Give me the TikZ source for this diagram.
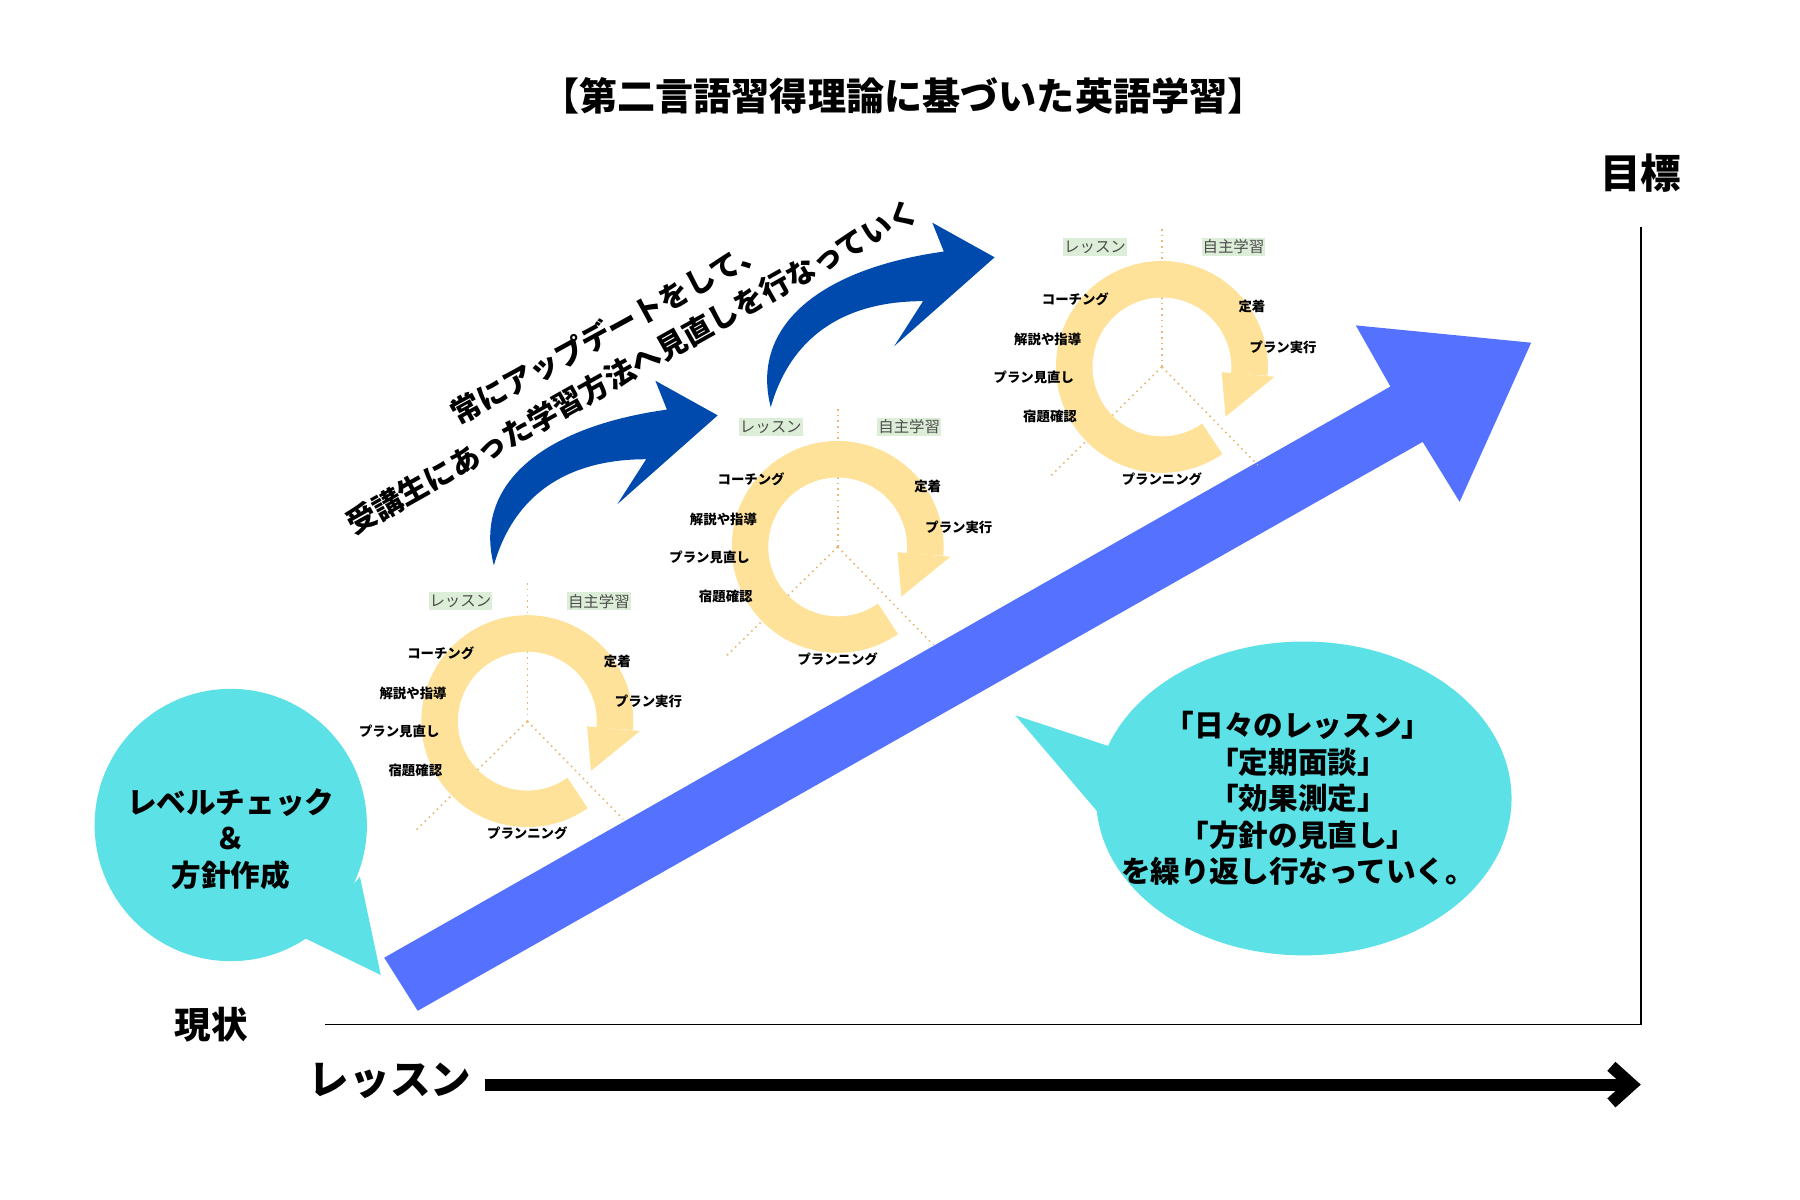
\documentclass[tikz,border=0pt]{standalone}
\usepackage{fontspec}
\usetikzlibrary{arrows.meta}
\setmainfont{Noto Sans CJK JP}
\definecolor{ringyellow}{HTML}{FFE29A}
\definecolor{bigblue}{HTML}{5472FF}
\definecolor{darkblue}{HTML}{004AAD}
\definecolor{bubble}{HTML}{5CE1E6}
\definecolor{tagbg}{HTML}{DDEED8}
\definecolor{guide}{HTML}{E8B878}
\tikzset{
  steplabel/.style={font=\fontsize{3.3pt}{4pt}\selectfont\bfseries, inner sep=0pt},
  tag/.style={fill=tagbg, text=black!70, font=\fontsize{3.8pt}{4pt}\selectfont,
    minimum width=0.55cm, minimum height=0.16cm, inner sep=0pt},
  bigtext/.style={font=\fontsize{7.3pt}{9pt}\selectfont\bfseries},
}
\newcommand{\studycycle}[3]{%
  \begin{scope}[shift={(#1,#2)}, yscale=-1]
    \draw [guide, densely dotted, thin] (0,0) -- (0,120);
    \draw [guide, densely dotted, thin] (0,0) -- (-97,-95);
    \draw [guide, densely dotted, thin] (0,0) -- (83,-85);
    \draw [ringyellow, line width=9pt] (-55:76) arc [start angle=-55, end angle=-365, radius=76];
    \fill [ringyellow] (-365:52) -- (-365:98) -- (-398:70) -- cycle;
    \node [tag] (#3les) at (-58,104) {レッスン};
    \node [tag] (#3self) at (62,104) {自主学習};
    \node [steplabel] (#3coach) at (-75,59) {コーチング};
    \node [steplabel] (#3expl) at (-99,24) {解説や指導};
    \node [steplabel] (#3rev) at (-111,-9) {プラン見直し};
    \node [steplabel] (#3hw) at (-97,-43) {宿題確認};
    \node [steplabel] (#3plan) at (0,-97) {プランニング};
    \node [steplabel] (#3fix) at (78,52) {定着};
    \node [steplabel] (#3run) at (105,17) {プラン実行};
  \end{scope}}

\begin{document}
\begin{tikzpicture}[x=0.01cm, y=-0.01cm]
  \useasboundingbox (0,0) rectangle (1560,1040);
  % title and axes
  \node [font=\fontsize{9.4pt}{11pt}\selectfont\bfseries] (title) at (783,83) {【第二言語習得理論に基づいた英語学習】};
  \node [font=\fontsize{10pt}{12pt}\selectfont\bfseries] (goal) at (1422,150) {目標};
  \node [font=\fontsize{9pt}{11pt}\selectfont\bfseries] (now) at (183,888) {現状};
  \node [font=\fontsize{10pt}{12pt}\selectfont\bfseries] (lessons) at (338,937) {レッスン};
  \coordinate (top) at (1422,197);
  \coordinate (corner) at (1422,888);
  \coordinate (origin) at (282,888);
  \draw [thin] (top) -- (corner) -- (origin);
  \coordinate (tstart) at (420,940);
  \coordinate (tend) at (1422,940);
  \draw [line width=3pt, -{Straight Barb[length=5pt,width=9pt]}] (tstart) -- (tend);
  % speech bubbles
  \fill [bubble] (200,715) circle [radius=118];
  \fill [bubble] (262,812) -- (330,845) -- (312,760) -- cycle;
  \node [bigtext, align=center] (check) at (200,727) {レベルチェック\\＆\\方針作成};
  \fill [bubble] (1130,692) ellipse [x radius=180, y radius=136];
  \fill [bubble] (965,648) -- (880,620) -- (955,708) -- cycle;
  \node [bigtext, align=center] (repeat) at (1125,692) {「日々のレッスン」\\「定期面談」\\「効果測定」\\「方針の見直し」\\を繰り返し行なっていく。};
  % rising arrow
  \fill [bigblue] (333,830) -- (1205,335) -- (1175,282) -- (1327,297) -- (1265,435) -- (1233,383) -- (362,876) -- cycle;
  % three cycles
  \foreach \cx/\cy/\nm in {457/625/a, 726/474/b, 1007/318/c} {
    \studycycle{\cx}{\cy}{\nm}
  }
  % curved update arrows
  \foreach \dx/\dy in {0/0, 240/-137} {
    \begin{scope}[shift={(\dx,\dy)}]
      \fill [darkblue] (428,490) .. controls (410,420) and (470,370) .. (578,355)
        -- (568,330) -- (622,360) -- (535,437) -- (560,398)
        .. controls (490,398) and (445,430) .. (428,490) -- cycle;
    \end{scope}
  }
  \node [bigtext, rotate=28.7] (upd1) at (527,287) {常にアップデートをして、};
  \node [bigtext, rotate=29.3] (upd2) at (548,318) {受講生にあった学習方法へ見直しを行なっていく};
\end{tikzpicture}
\end{document}
